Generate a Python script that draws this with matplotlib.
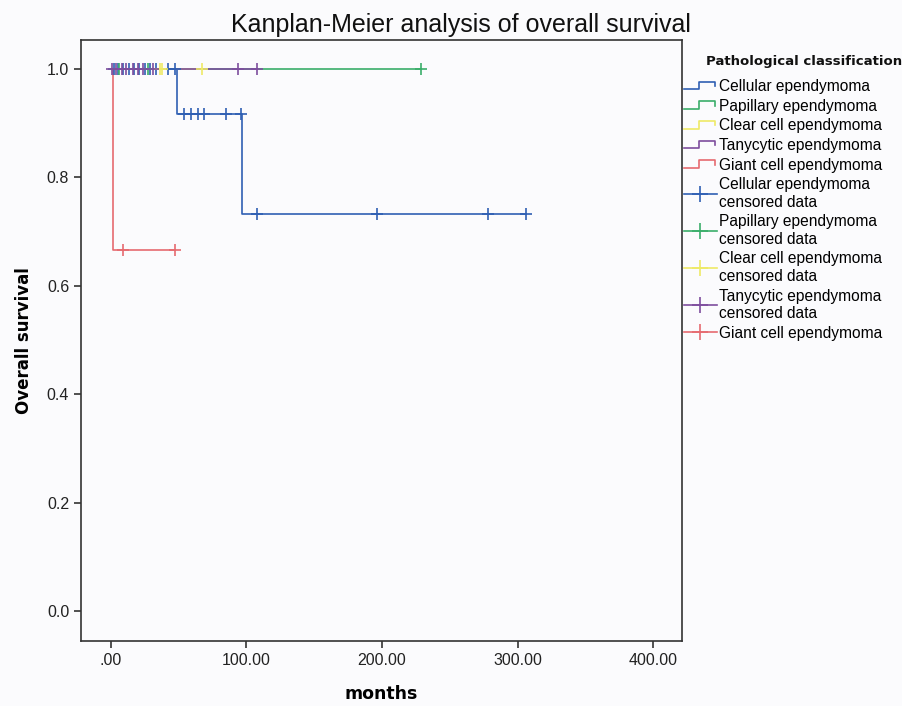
import matplotlib
matplotlib.use("Agg")
import matplotlib.pyplot as plt
import numpy as np
from matplotlib.lines import Line2D
from matplotlib.legend_handler import HandlerBase
from matplotlib.ticker import FuncFormatter

# step curves: times where survival changes, survival after each change, end of follow-up
groups = ["Cellular ependymoma", "Papillary ependymoma", "Clear cell ependymoma",
          "Tanycytic ependymoma", "Giant cell ependymoma"]
colors = ["#2f5fb3", "#3aae6a", "#eeea66", "#7e4e9e", "#e66a70"]

step_times = [[0, 49, 97], [0], [0], [0], [0, 1.5]]
step_surv = [[1.0, 0.917, 0.733], [1.0], [1.0], [1.0], [1.0, 0.667]]
end_times = [306, 229, 67, 108, 47]

# censored observations (months)
censored = [
    [2, 5, 9, 13, 17, 21, 25, 29, 33, 42, 47, 54, 59, 64, 69, 85, 96, 108, 196, 278, 306],
    [6, 27, 229],
    [36, 38, 67],
    [1, 4, 8, 11, 16, 20, 24, 31, 94, 108],
    [9, 47],
]

legend_labels = groups + [
    "Cellular ependymoma\ncensored data",
    "Papillary ependymoma\ncensored data",
    "Clear cell ependymoma\ncensored data",
    "Tanycytic ependymoma\ncensored data",
    "Giant cell ependymoma",
]

TICK_FONT = "Liberation Sans"
BOLD_FONT = "DejaVu Sans"


class StepHandler(HandlerBase):
    def create_artists(self, legend, orig_handle, xdescent, ydescent,
                       width, height, fontsize, trans):
        xs = [-xdescent + width * f for f in (0.0, 0.45, 0.45, 0.95, 0.95)]
        ys = [-ydescent + height * f for f in (0.15, 0.15, 0.85, 0.85, 0.45)]
        ln = Line2D(xs, ys, color=orig_handle.get_color(), lw=orig_handle.get_linewidth())
        ln.set_transform(trans)
        return [ln]


def surv_at(t, times, surv):
    idx = np.searchsorted(times, t, side="right") - 1
    return np.asarray(surv)[idx]


bg = "#fbfbfd"
fig = plt.figure(figsize=(9.03, 7.06), dpi=100, facecolor=bg)
ax = fig.add_axes([0.0897, 0.092, 0.6656, 0.8513], facecolor=bg)

for i in range(len(groups)):
    xs = list(step_times[i]) + [end_times[i]]
    ys = list(step_surv[i]) + [step_surv[i][-1]]
    ax.step(xs, ys, where="post", color=colors[i], lw=1.2, zorder=2 + i * 0.1)

for i in range(len(groups)):
    c = np.array(censored[i], dtype=float)
    ax.plot(c, surv_at(c, step_times[i], step_surv[i]), ls="none", marker="+",
            ms=9, mew=1.2, color=colors[i], zorder=3 + i * 0.1)

ax.set_xlim(-22.1, 421.4)
ax.set_ylim(-0.0554, 1.0535)
ax.set_xticks([0, 100, 200, 300, 400])
ax.set_yticks([0.0, 0.2, 0.4, 0.6, 0.8, 1.0])
ax.xaxis.set_major_formatter(FuncFormatter(lambda v, p: f"{v:.2f}".lstrip("0") if v == 0 else f"{v:.2f}"))
ax.yaxis.set_major_formatter(FuncFormatter(lambda v, p: f"{v:.1f}"))
ax.tick_params(direction="out", length=5, width=1.2, color="#333333", labelsize=11.5,
               labelcolor="#222222")
for lab in ax.get_xticklabels() + ax.get_yticklabels():
    lab.set_fontfamily(TICK_FONT)
for sp in ax.spines.values():
    sp.set_color("#333333")
    sp.set_linewidth(1.2)

ax.set_xlabel("months", fontfamily=BOLD_FONT, fontweight="bold", fontsize=12.5, labelpad=12)
ax.set_ylabel("Overall survival", fontfamily=BOLD_FONT, fontweight="bold", fontsize=12, labelpad=10)

fig.suptitle("Kanplan-Meier analysis of overall survival", x=0.51, y=0.982,
             fontfamily=TICK_FONT, fontsize=18, color="#111111")

step_handles = [Line2D([], [], color=c, lw=1.2) for c in colors]
cens_handles = [Line2D([], [], color=c, lw=1.2, marker="+", ms=11, mew=1.2) for c in colors]
leg = fig.legend(step_handles + cens_handles, legend_labels, loc="upper left",
                 bbox_to_anchor=(684 / 903, 1 - 79 / 706), frameon=False,
                 handler_map={h: StepHandler() for h in step_handles},
                 prop={"family": TICK_FONT, "size": 11.2}, handlelength=2.1,
                 handletextpad=0.15, labelspacing=0.3, borderpad=0, borderaxespad=0)
fig.text(706 / 903, 1 - 61 / 706, "Pathological classification", ha="left", va="center",
         fontfamily=BOLD_FONT, fontweight="bold", fontsize=9.5, color="#111111")

fig.savefig("out.png", dpi=100, facecolor=bg)
